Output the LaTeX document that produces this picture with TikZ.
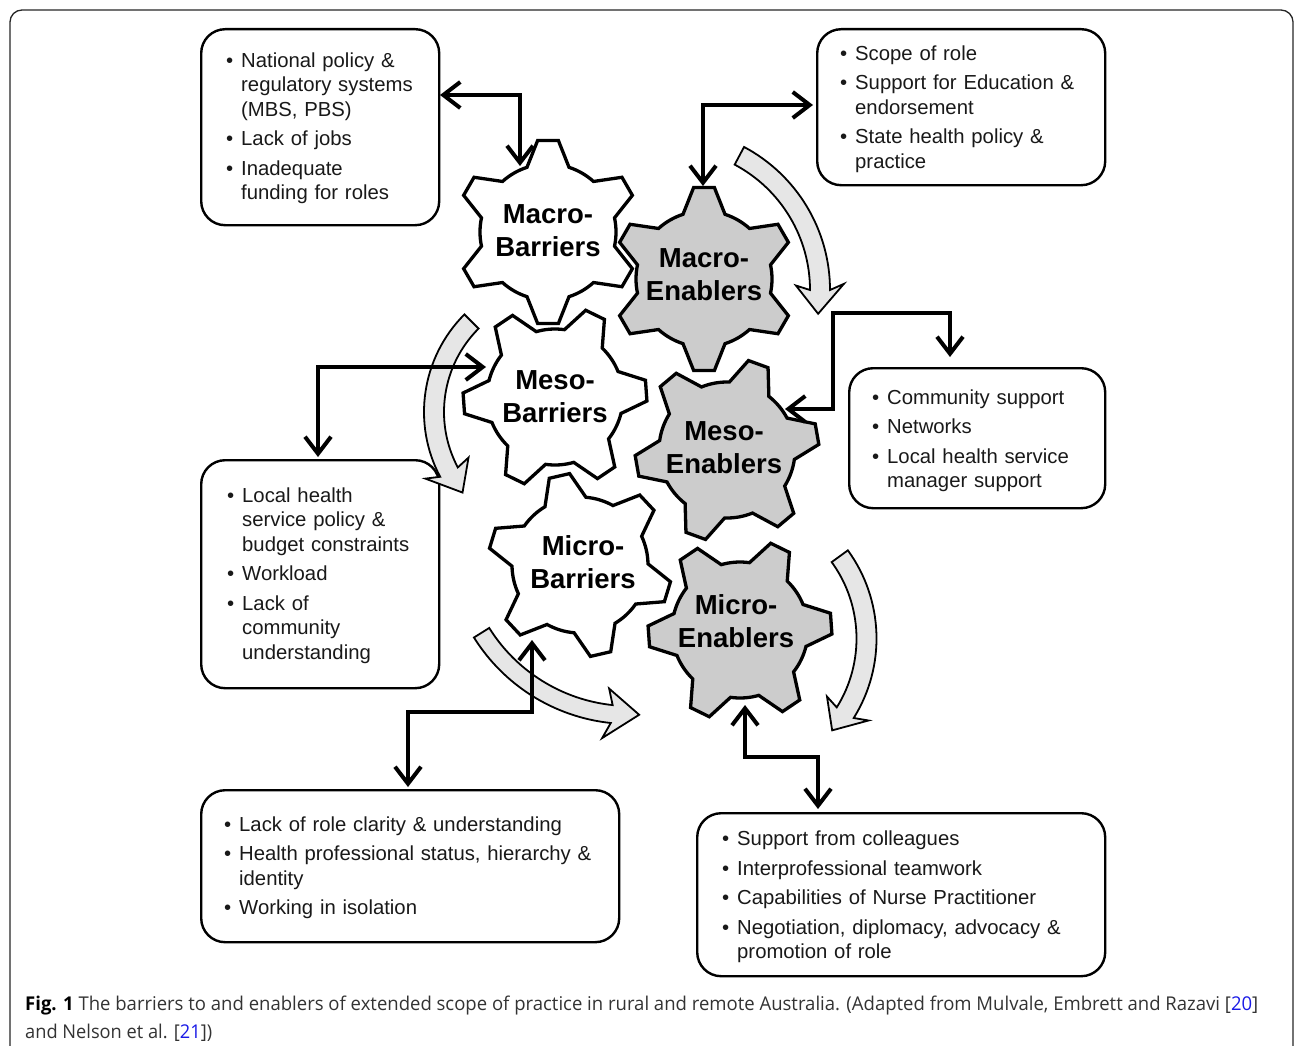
\documentclass[tikz,border=0pt]{standalone}
\usepackage{fontspec}
\usepackage{graphicx}
\setmainfont{Liberation Sans}
\newfontfamily\capfont[FakeStretch=0.82]{Open Sans}
\usetikzlibrary{arrows.meta}
\definecolor{gearfill}{HTML}{CCCCCC}
\definecolor{arrfill}{HTML}{E6E6E6}
\definecolor{capblue}{HTML}{1A1AE6}
\definecolor{captext}{HTML}{333333}

% gear outline: centre x, centre y, rotation (image angles, y down)
\newcommand\gearpath[3]{%
  ([shift={(#1,#2)}]#3-18:68)
  \foreach \k in {0,...,5}{%
    -- ([shift={(#1,#2)}]#3+60*\k-6.5:92)
    -- ([shift={(#1,#2)}]#3+60*\k+6.5:92)
    -- ([shift={(#1,#2)}]#3+60*\k+18:68)
    arc[start angle={#3+60*\k+18}, end angle={#3+60*\k+42}, radius=68]
  } -- cycle}

% curved block arrow: cx, cy, r, half width, start angle, band end, head half width, wing angle, tip angle
\newcommand\barc[9]{%
  \pgfmathsetmacro\bkRo{#3+#4}\pgfmathsetmacro\bkRi{#3-#4}%
  \pgfmathsetmacro\bkWo{#3+#7}\pgfmathsetmacro\bkWi{#3-#7}%
  \draw[blk] ([shift={(#1,#2)}]#5:\bkRo) arc[start angle=#5, end angle=#6, radius=\bkRo]
    -- ([shift={(#1,#2)}]#8:\bkWo) -- ([shift={(#1,#2)}]#9:#3)
    -- ([shift={(#1,#2)}]#8:\bkWi) -- ([shift={(#1,#2)}]#6:\bkRi)
    arc[start angle=#6, end angle=#5, radius=\bkRi] -- cycle;}

\newcommand\itm[1]{\par\noindent\hangindent=15pt\hangafter=1\makebox[15pt][l]{\textbullet}#1\par}
\newcommand\isep{\vspace{5pt}}

\tikzset{
  gearB/.style={draw, line width=3.3pt, fill=white, line join=miter},
  gearE/.style={gearB, fill=gearfill},
  gtext/.style={font=\bfseries\fontsize{27.5}{33}\selectfont, align=center, inner sep=0pt},
  box/.style={draw, line width=2.4pt, rounded corners=24pt, inner sep=0pt, anchor=north west, fill=white},
  btext/.style={font=\fontsize{20.3}{24.5}\selectfont, text width=420pt, align=left, inner sep=0pt, anchor=north west, text=black!90},
  conn/.style={line width=4pt, {Straight Barb[length=17pt,width=26pt]}-{Straight Barb[length=17pt,width=26pt]}},
  blk/.style={draw, line width=1.8pt, fill=arrfill, line join=miter}
}

\begin{document}
\begin{tikzpicture}[x=1pt, y=-1pt]
\useasboundingbox (0,0) rectangle (1295,1046);
\draw[line width=1.3pt, rounded corners=12pt, draw=black!85] (10,10) rectangle (1293,1080);

% boxes
\node[box, minimum width=238pt, minimum height=196pt] (b1) at (200,28) {};
\node[box, minimum width=288pt, minimum height=156pt] (b2) at (816,28) {};
\node[box, minimum width=256pt, minimum height=140pt] (b3) at (848,367) {};
\node[box, minimum width=238pt, minimum height=228pt] (b4) at (200,459) {};
\node[box, minimum width=418pt, minimum height=152pt] (b5) at (200,789) {};
\node[box, minimum width=408pt, minimum height=163pt] (b6) at (696,812) {};

\node[btext] (t1) at (226,42.5) {\itm{National policy \&\newline regulatory systems\newline (MBS, PBS)}\isep\itm{Lack of jobs}\isep\itm{Inadequate\newline funding for roles}};
\node[btext] (t2) at (840,35.5) {\itm{Scope of role}\isep\itm{Support for Education \&\newline endorsement}\isep\itm{State health policy \&\newline practice}};
\node[btext] (t3) at (872,379.5) {\itm{Community support}\isep\itm{Networks}\isep\itm{Local health service\newline manager support}};
\node[btext] (t4) at (227,477.5) {\itm{Local health\newline service policy \&\newline budget constraints}\isep\itm{Workload}\isep\itm{Lack of\newline community\newline understanding}};
\node[btext] (t5) at (224,806.5) {\itm{Lack of role clarity \& understanding}\isep\itm{Health professional status, hierarchy \&\newline identity}\isep\itm{Working in isolation}};
\node[btext] (t6) at (722,821) {\itm{Support from colleagues}\isep\itm{Interprofessional teamwork}\isep\itm{Capabilities of Nurse Practitioner}\isep\itm{Negotiation, diplomacy, advocacy \&\newline promotion of role}};

% curved grey arrows
\barc{668}{290}{152}{10}{-62}{0}{24}{-2}{9}
\barc{562}{412}{128}{10}{225}{152}{24}{154}{141}
\barc{630}{540}{175}{9}{148}{96}{25}{98}{87}
\barc{726.5}{638.5}{140}{10}{-36}{32}{24}{30}{41}

% gears
\draw[gearB] \gearpath{548}{232}{30};
\draw[gearE] \gearpath{704}{279}{30};
\draw[gearB] \gearpath{555}{397}{-4};
\draw[gearE] \gearpath{727}{450}{-10};
\draw[gearB] \gearpath{580}{565}{17};
\draw[gearE] \gearpath{740}{630}{-4};

\node[gtext] (g1) at (548,231) {Macro-\\Barriers};
\node[gtext] (g2) at (704,275) {Macro-\\Enablers};
\node[gtext] (g3) at (555,397) {Meso-\\Barriers};
\node[gtext] (g4) at (724,448) {Meso-\\Enablers};
\node[gtext] (g5) at (583,562) {Micro-\\Barriers};
\node[gtext] (g6) at (736,621) {Micro-\\Enablers};

% connectors
\coordinate (c1a) at (440,95);  \coordinate (c1b) at (520,166);
\coordinate (c2a) at (813,105); \coordinate (c2b) at (703,186);
\coordinate (c3a) at (486,367); \coordinate (c3b) at (318,457);
\coordinate (c4a) at (785,409); \coordinate (c4m) at (833,313); \coordinate (c4b) at (950,357);
\coordinate (c5a) at (532,640); \coordinate (c5m) at (532,712); \coordinate (c5b) at (408,787);
\coordinate (c6a) at (745,705); \coordinate (c6m) at (745,757); \coordinate (c6b) at (818,809);
\draw[conn] (c1a) -| (c1b);
\draw[conn] (c2a) -| (c2b);
\draw[conn] (c3a) -| (c3b);
\draw[conn] (c4a) -| (c4m) -| (c4b);
\draw[conn] (c5a) -- (c5m) -| (c5b);
\draw[conn] (c6a) -- (c6m) -| (c6b);

% caption
\node[anchor=base west, inner sep=0pt, font=\capfont\fontsize{19}{24}\selectfont, text=captext] (cap1) at (25,1010)
  {\resizebox{1233pt}{\height}{\textbf{\color{black}Fig. 1} The barriers to and enablers of extended scope of practice in rural and remote Australia. (Adapted from Mulvale, Embrett and Razavi [\textcolor{capblue}{20}]}};
\node[anchor=base west, inner sep=0pt, font=\capfont\fontsize{19}{24}\selectfont, text=captext] (cap2) at (25,1038)
  {\resizebox{187pt}{\height}{and Nelson et al. [\textcolor{capblue}{21}])}};
\end{tikzpicture}
\end{document}
